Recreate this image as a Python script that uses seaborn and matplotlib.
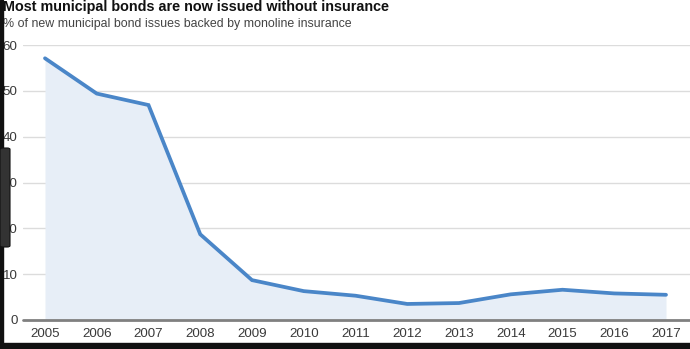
import matplotlib
matplotlib.use("Agg")
import matplotlib.pyplot as plt
from matplotlib.patches import Rectangle, FancyBboxPatch
import seaborn as sns
import pandas as pd

years = [2005, 2006, 2007, 2008, 2009, 2010, 2011, 2012, 2013, 2014, 2015, 2016, 2017]
insured_share = [57.1, 49.4, 46.9, 18.7, 8.7, 6.3, 5.3, 3.5, 3.7, 5.6, 6.6, 5.8, 5.5]
y_ticks = [0, 10, 20, 30, 40, 50, 60]

title = "Most municipal bonds are now issued without insurance"
subtitle = "% of new municipal bond issues backed by monoline insurance"

df = pd.DataFrame({"year": years, "share": insured_share})

sns.set_theme(style="white")
plt.rcParams["font.family"] = ["Liberation Sans", "DejaVu Sans"]

W, H = 690, 349
fig = plt.figure(figsize=(W / 100, H / 100), dpi=100)
fig.patch.set_facecolor("white")

# plot area in pixel terms: left edge 23, right edge 690, zero at y=320, 60 at y=45
ax = fig.add_axes([23 / W, (H - 320) / H, (690 - 23) / W, (320 - 45) / H])
ax.set_facecolor("white")

line_color = "#4a86c8"
fill_color = "#e7eef7"

ax.fill_between(df["year"], 0, df["share"], color=fill_color, lw=0, zorder=1)
sns.lineplot(data=df, x="year", y="share", ax=ax, color=line_color, lw=2.7,
             zorder=3, clip_on=False, solid_joinstyle="miter")

ax.set_xlim(2005 - 22 / 51.75, 2017 + 24 / 51.75)
ax.set_ylim(0, 60)
ax.set_yticks(y_ticks)
ax.set_xticks(years)
ax.set_xticklabels([str(y) for y in years])
ax.set_xlabel("")
ax.set_ylabel("")

for v in y_ticks[1:]:
    ax.axhline(v, color="#dcdcdc", lw=1.0, zorder=0.5)
ax.axhline(0, color="#808080", lw=2.0, zorder=4, clip_on=False)

for s in ax.spines.values():
    s.set_visible(False)

ax.tick_params(axis="both", length=0, labelsize=9.6, colors="#3a3a3a")
ax.tick_params(axis="y", pad=4)
ax.tick_params(axis="x", pad=6)

fig.text(3 / W, 1 - 0.5 / H, title, fontsize=10.4, fontweight="bold",
         color="#111111", va="top", ha="left")
fig.text(3 / W, 1 - 17.5 / H, subtitle, fontsize=8.95, color="#444444",
         va="top", ha="left")

# dark frame along the left and bottom edges, plus the side tab
fig.patches.append(Rectangle((0, 0), 3 / W, 1, transform=fig.transFigure,
                             color="#111111", zorder=10))
fig.patches.append(Rectangle((0, 0), 1, 6 / H, transform=fig.transFigure,
                             color="#111111", zorder=10))
fig.patches.append(FancyBboxPatch((0, (H - 247) / H), 10 / W, 99 / H,
                                  boxstyle="round,pad=0,rounding_size=0.004",
                                  transform=fig.transFigure, facecolor="#333333",
                                  edgecolor="#111111", lw=0.8, zorder=11))

fig.savefig("out.png", dpi=100, facecolor="white")
